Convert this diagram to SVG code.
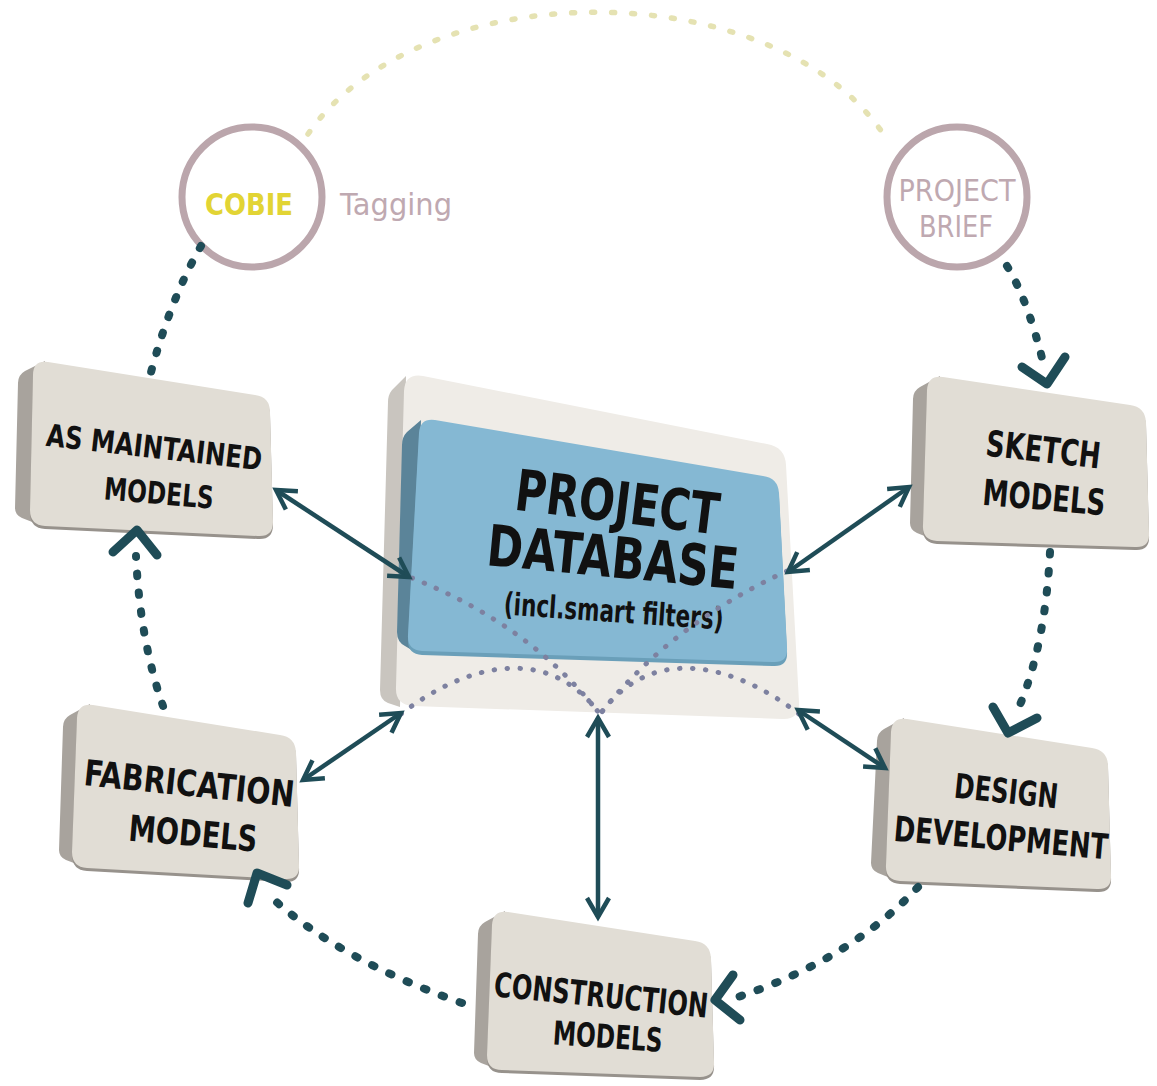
<svg xmlns="http://www.w3.org/2000/svg" width="1157" height="1086" viewBox="0 0 1157 1086">
<defs>
<style>
.face{fill:#e1ddd5;}
.side{fill:#a8a39d;}
.edge{fill:#97928c;}
.lbl{font-family:"DejaVu Sans Condensed","DejaVu Sans",sans-serif;font-weight:bold;fill:#111;text-anchor:middle;}
.circ{fill:none;stroke:#bba6ac;stroke-width:7;}
.cyc{fill:none;stroke:#1f4c57;stroke-width:8;stroke-linecap:round;stroke-dasharray:2.5 16.5;}
.chev{fill:none;stroke:#1f4c57;stroke-width:9;stroke-linecap:round;stroke-linejoin:round;}
.sol{fill:none;stroke:#1f4c57;stroke-width:4.5;marker-start:url(#ah);marker-end:url(#ah);}
.inn{fill:none;stroke:#7d81a0;stroke-width:5;stroke-linecap:round;stroke-dasharray:0.5 12.5;}
.pale{fill:none;stroke:#e5e2b2;stroke-width:5.5;stroke-linecap:round;stroke-dasharray:3 17;}
.ctext{font-family:"DejaVu Sans","Noto Sans",sans-serif;fill:#bfa9b1;text-anchor:middle;}
</style>
<marker id="ah" markerUnits="userSpaceOnUse" markerWidth="32" markerHeight="32" viewBox="-26 -16 32 32" refX="0" refY="0" orient="auto-start-reverse">
<path d="M-19,-11 L0,0 L-19,11" fill="none" stroke="#1f4c57" stroke-width="4.5"/>
</marker>
</defs>
<rect width="1157" height="1086" fill="#ffffff"/>

<g id="database">
<path d="M406,376 L392,390 Q388,395 388,402 L380,690 Q380,700 388,703 L400,707 Z" fill="#c9c5bf"/>
<path d="M423,376 L767,444 Q785,447 786,465 L799,702 Q800,720 782,719 L413,706 Q395,705 396,687 L404,391 Q405,373 423,376 Z" fill="#efece7"/>
<path d="M421,420 L407,432 Q402,437 402,445 L397,632 Q397,642 405,646 L415,652 Z" fill="#5b8499"/>
<path d="M435,424 L763,480 Q778,482 779,497 L787,652 Q788,667 773,666 L422,655 Q407,654 408,639 L419,437 Q420,422 435,424 Z" fill="#6a9fb9"/>
<path d="M435,420 L763,476 Q778,478 779,493 L787,648 Q788,663 773,662 L422,651 Q407,650 408,635 L419,433 Q420,418 435,420 Z" fill="#85b8d3"/>
<text class="lbl" font-size="57" textLength="205" lengthAdjust="spacingAndGlyphs" transform="translate(615,522) rotate(7)">PROJECT</text>
<text class="lbl" font-size="57" textLength="252" lengthAdjust="spacingAndGlyphs" transform="translate(611,577) rotate(5.5)">DATABASE</text>
<text class="lbl" font-size="31" textLength="220" lengthAdjust="spacingAndGlyphs" transform="translate(613,622) rotate(4)">(incl.smart filters)</text>
</g>

<g id="cobie">
<circle class="circ" cx="252" cy="197" r="70"/>
<text x="249" y="215" font-family="DejaVu Sans,sans-serif" font-weight="bold" font-size="31" fill="#e2d434" text-anchor="middle" textLength="88" lengthAdjust="spacingAndGlyphs">COBIE</text>
</g>
<g id="tagging">
<text x="396" y="215" font-family="DejaVu Sans,sans-serif" font-size="31" fill="#bfa9b1" text-anchor="middle" textLength="112" lengthAdjust="spacingAndGlyphs">Tagging</text>
</g>

<g id="project-brief">
<circle class="circ" cx="957" cy="197" r="70"/>
<text class="ctext" x="957" y="201" font-size="31" textLength="117" lengthAdjust="spacingAndGlyphs">PROJECT</text>
<text class="ctext" x="956" y="237" font-size="31" textLength="74" lengthAdjust="spacingAndGlyphs">BRIEF</text>
</g>

<g id="as-maintained">
<path class="side" d="M45,361 L25,371 Q18,375 18,383 L15,508 Q15,515 22,518 L45,527 Z"/>
<path class="edge" d="M48,365 L255,398 Q270,400 270,415 L273,525 Q273,540 258,539 L45,529 Q30,528 30,513 L33,378 Q33,363 48,365 Z"/>
<path class="face" d="M48,362 L255,395 Q270,397 270,412 L273,522 Q273,537 258,536 L45,526 Q30,525 30,510 L33,375 Q33,360 48,362 Z"/>
<text class="lbl" font-size="31" textLength="217" lengthAdjust="spacingAndGlyphs" transform="translate(153,458) rotate(6.5)">AS MAINTAINED</text>
<text class="lbl" font-size="31" textLength="110" lengthAdjust="spacingAndGlyphs" transform="translate(158,504) rotate(5)">MODELS</text>
</g>

<g id="sketch">
<path class="side" d="M940,376 L920,387 Q913,391 913,399 L910,523 Q910,530 917,533 L937,541 Z"/>
<path class="edge" d="M943,380 L1130,408 Q1145,410 1146,425 L1149,536 Q1150,551 1135,550 L937,544 Q922,543 923,528 L927,393 Q928,378 943,380 Z"/>
<path class="face" d="M943,377 L1130,405 Q1145,407 1146,422 L1149,533 Q1150,548 1135,547 L937,541 Q922,540 923,525 L927,390 Q928,375 943,377 Z"/>
<text class="lbl" font-size="36" textLength="115" lengthAdjust="spacingAndGlyphs" transform="translate(1042,462) rotate(6.5)">SKETCH</text>
<text class="lbl" font-size="36" textLength="123" lengthAdjust="spacingAndGlyphs" transform="translate(1043,510) rotate(5)">MODELS</text>
</g>

<g id="design">
<path class="side" d="M904,718 L884,729 Q877,733 877,741 L871,863 Q871,870 878,873 L900,882 Z"/>
<path class="edge" d="M907,722 L1092,751 Q1107,753 1108,768 L1111,878 Q1112,893 1097,892 L900,884 Q885,883 886,868 L891,735 Q892,720 907,722 Z"/>
<path class="face" d="M907,719 L1092,748 Q1107,750 1108,765 L1111,875 Q1112,890 1097,889 L900,881 Q885,880 886,865 L891,732 Q892,717 907,719 Z"/>
<text class="lbl" font-size="34" textLength="104" lengthAdjust="spacingAndGlyphs" transform="translate(1005,803) rotate(6)">DESIGN</text>
<text class="lbl" font-size="35" textLength="215" lengthAdjust="spacingAndGlyphs" transform="translate(1000,850) rotate(5)">DEVELOPMENT</text>
</g>

<g id="construction">
<path class="side" d="M505,911 L485,922 Q478,926 478,934 L474,1053 Q474,1060 481,1063 L502,1071 Z"/>
<path class="edge" d="M508,915 L695,944 Q710,946 711,961 L714,1065 Q715,1080 700,1080 L502,1073 Q487,1073 487,1058 L492,928 Q493,913 508,915 Z"/>
<path class="face" d="M508,912 L695,941 Q710,943 711,958 L714,1062 Q715,1077 700,1077 L502,1070 Q487,1070 487,1055 L492,925 Q493,910 508,912 Z"/>
<text class="lbl" font-size="34" textLength="215" lengthAdjust="spacingAndGlyphs" transform="translate(600,1007) rotate(5.8)">CONSTRUCTION</text>
<text class="lbl" font-size="33" textLength="110" lengthAdjust="spacingAndGlyphs" transform="translate(607,1048) rotate(4)">MODELS</text>
</g>

<g id="fabrication">
<path class="side" d="M90,704 L70,715 Q63,719 63,727 L59,850 Q59,857 66,860 L87,868 Z"/>
<path class="edge" d="M93,708 L280,738 Q295,740 296,755 L299,868 Q300,883 285,882 L87,871 Q72,870 72,855 L77,721 Q78,706 93,708 Z"/>
<path class="face" d="M93,705 L280,735 Q295,737 296,752 L299,865 Q300,880 285,879 L87,868 Q72,867 72,852 L77,718 Q78,703 93,705 Z"/>
<text class="lbl" font-size="36" textLength="211" lengthAdjust="spacingAndGlyphs" transform="translate(188,796) rotate(6)">FABRICATION</text>
<text class="lbl" font-size="36" textLength="129" lengthAdjust="spacingAndGlyphs" transform="translate(192,846) rotate(5)">MODELS</text>
</g>

<g id="connectors">
<path class="pale" d="M308,134 C420,-28 770,-28 882,132"/>
<path class="cyc" d="M201,246 Q170,300 150,376"/>
<path class="cyc" d="M1007,266 Q1028,300 1044,366"/>
<path class="chev" d="M1022,367 L1047,384 L1065,357"/>
<path class="cyc" d="M1050,552 Q1045,650 1016,714"/>
<path class="chev" d="M993,707 L1008,733 L1037,718"/>
<path class="cyc" d="M918,887 Q850,960 735,998"/>
<path class="chev" d="M733,975 L715,1000 L740,1020"/>
<path class="cyc" d="M462,1003 Q340,960 272,898"/>
<path class="chev" d="M248,903 L257,873 L287,885"/>
<path class="cyc" d="M163,706 Q140,640 136,556"/>
<path class="chev" d="M113,552 L137,530 L157,555"/>

<path class="inn" d="M412,578 Q530,625 599,713"/>
<path class="inn" d="M787,571 Q670,625 601,713"/>
<path class="inn" d="M401,714 C460,668 545,640 599,713"/>
<path class="inn" d="M799,714 C740,668 655,640 601,713"/>

<path class="sol" d="M276,490 L409,577"/>
<path class="sol" d="M909,487 L788,572"/>
<path class="sol" d="M303,780 L401,713"/>
<path class="sol" d="M885,768 L798,710"/>
<path class="sol" d="M598,917 L598,718"/>
</g>
</svg>
